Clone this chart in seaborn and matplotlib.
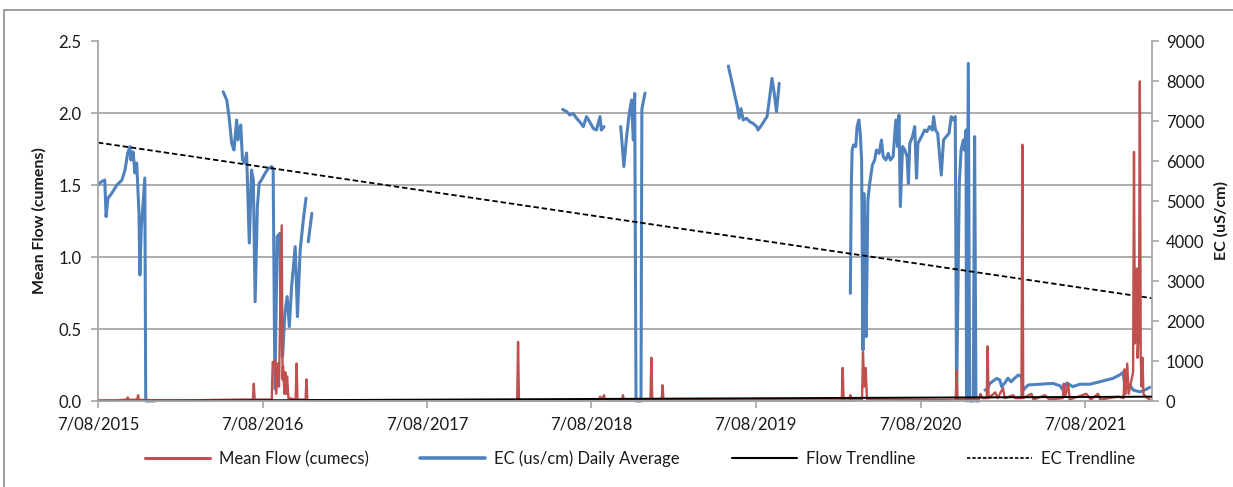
import numpy as np
import pandas as pd
import matplotlib
matplotlib.use("Agg")
import matplotlib.pyplot as plt
import matplotlib.dates as mdates
from matplotlib.ticker import MultipleLocator, FuncFormatter, FixedLocator
from matplotlib.lines import Line2D
from matplotlib.patches import Rectangle
import seaborn as sns

sns.set_style("white")
plt.rcParams['font.family'] = ['Lato', 'DejaVu Sans']

# ---------------- data ----------------
# EC daily average (uS/cm); None marks a gap in the record
ec_dates = [
    "2015-08-07", "2015-08-14", "2015-08-22", "2015-08-25", "2015-08-29", "2015-09-07",
    "2015-09-18", "2015-09-29", "2015-10-06", "2015-10-12", "2015-10-17", "2015-10-19",
    "2015-10-24", "2015-10-28", "2015-11-01", "2015-11-06", "2015-11-08", "2015-11-11",
    "2015-11-19", "2015-11-21", "2015-12-11", None,
    "2016-05-11", "2016-05-19", "2016-05-24", "2016-05-30", "2016-06-04", "2016-06-10",
    "2016-06-13", "2016-06-19", "2016-06-23", "2016-06-28", "2016-07-02", "2016-07-08",
    "2016-07-13", "2016-07-17", "2016-07-21", "2016-07-26", "2016-07-30", "2016-08-04",
    "2016-08-12", "2016-08-19", "2016-08-27", "2016-08-30", "2016-09-03", "2016-09-08",
    "2016-09-14", "2016-09-16", "2016-09-20", "2016-09-25", "2016-09-30", "2016-10-05",
    "2016-10-10", "2016-10-18", "2016-10-23", "2016-10-29", "2016-11-05", "2016-11-11", None,
    "2016-11-16", "2016-11-24", None,
    "2018-06-04", "2018-06-13", "2018-06-20", "2018-06-27", "2018-07-05", "2018-07-12",
    "2018-07-20", "2018-07-27", "2018-08-03", "2018-08-11", "2018-08-18", "2018-08-26",
    "2018-08-29", "2018-09-04", None,
    "2018-10-11", "2018-10-18", "2018-10-24", "2018-10-30", "2018-11-04", "2018-11-08",
    "2018-11-11", "2018-11-14", "2018-11-25", "2018-11-27", "2018-12-04", None,
    "2019-06-07", "2019-06-14", "2019-06-22", "2019-06-27", "2019-07-01", "2019-07-05",
    "2019-07-10", "2019-07-17", "2019-07-25", "2019-08-01", "2019-08-09", "2019-08-12",
    "2019-08-20", "2019-08-27", "2019-09-01", "2019-09-07", "2019-09-12", "2019-09-17",
    "2019-09-22", "2019-09-28", None,
    "2020-03-04", "2020-03-06", "2020-03-08", "2020-03-11", "2020-03-16", "2020-03-19",
    "2020-03-23", "2020-03-26", "2020-03-29", "2020-04-01", "2020-04-03", "2020-04-07",
    "2020-04-08", "2020-04-12", "2020-04-16", "2020-04-22", "2020-04-27", "2020-05-01",
    "2020-05-07", "2020-05-12", "2020-05-16", "2020-05-22", "2020-05-27", "2020-06-01",
    "2020-06-07", "2020-06-13", "2020-06-17", "2020-06-20", "2020-06-23", "2020-06-28",
    "2020-07-03", "2020-07-08", "2020-07-11", "2020-07-14", "2020-07-20", "2020-07-25",
    "2020-07-29", "2020-08-01", "2020-08-09", "2020-08-16", "2020-08-21", "2020-08-27",
    "2020-09-02", "2020-09-05", "2020-09-09", "2020-09-14", "2020-09-22", "2020-09-27",
    "2020-10-03", "2020-10-09", "2020-10-14", "2020-10-19", "2020-10-23", "2020-10-26",
    "2020-11-01", "2020-11-05", "2020-11-10", "2020-11-12", "2020-11-16", "2020-11-17",
    "2020-11-21", "2020-11-24", "2020-11-27", "2020-12-02", "2020-12-05", "2020-12-08",
    "2020-12-14", None,
    "2020-12-28", "2021-01-01", "2021-01-08", "2021-01-23", "2021-01-30", "2021-02-03",
    "2021-02-10", "2021-02-17", "2021-02-24", "2021-03-04", "2021-03-12", "2021-03-19",
    "2021-03-23", "2021-04-03", "2021-04-29", "2021-05-28", "2021-06-13", "2021-06-19",
    "2021-06-28", "2021-07-11", "2021-07-27", "2021-08-18", "2021-09-09", "2021-09-24",
    "2021-10-08", "2021-10-23", "2021-10-31", "2021-11-03", "2021-11-09", "2021-11-15",
    "2021-11-22", "2021-12-07", "2021-12-18", "2021-12-29",
]
ec_values = [
    5400, 5480, 5525, 4610, 5070, 5200,
    5400, 5520, 5775, 6200, 6360, 6025,
    6230, 5700, 5950, 4700, 3150, 4275,
    5575, 0, 0, None,
    7730, 7525, 7108, 6440, 6275, 7025,
    6525, 6900, 6025, 5950, 6200, 3950,
    5775, 5525, 2480, 4860, 5440, 5525,
    5690, 5810, 5860, 5775, 300, 4110,
    4190, 2025, 1110, 2190, 2610, 1860,
    2860, 3860, 2110, 3775, 4525, 5070, None,
    3980, 4690, None,
    7290, 7235, 7150, 7190, 7070, 6980,
    6860, 7110, 6980, 6815, 6775, 7110,
    6775, 6860, None,
    6860, 5860, 6610, 7190, 7525, 6525,
    7690, 0, 0, 7300, 7700, None,
    8375, 8025, 7610, 7360, 7070, 7310,
    7025, 7070, 6980, 6940, 6860, 6775,
    6900, 7025, 7110, 7610, 8065, 7690,
    7235, 7940, None,
    2690, 5275, 6275, 6400, 6360, 6860,
    7025, 6690, 6025, 1275, 5190, 3775,
    1610, 5025, 5440, 5900, 6025, 6275,
    6190, 6525, 6110, 6025, 6190, 6025,
    6110, 7025, 6360, 7150, 4860, 6360,
    6275, 6110, 5440, 6440, 6610, 6860,
    5570, 6440, 6610, 6775, 6735, 6860,
    6775, 7110, 6775, 6690, 5650, 6525,
    6610, 6690, 7110, 7025, 7110, 100,
    5440, 6275, 6525, 6275, 6775, 0,
    8440, 0, 0, 0, 6610, 0,
    0, None,
    275, 275, 440, 565, 525, 360,
    450, 570, 480, 570, 650, 610,
    275, 400, 420, 440, 380, 275,
    450, 360, 420, 420, 480, 525,
    565, 650, 720, 420, 300, 400,
    275, 230, 275, 340,
]

# Mean flow (cumecs)
flow_dates = [
    "2015-08-07", "2015-09-20", "2015-10-10", "2015-10-12", "2015-10-14", "2015-11-02",
    "2015-11-04", "2015-11-06", "2015-12-10", "2016-03-01", "2016-06-20", "2016-07-16",
    "2016-07-18", "2016-07-20", "2016-08-27", "2016-08-29", "2016-09-03", "2016-09-06",
    "2016-09-09", "2016-09-12", "2016-09-18", "2016-09-20", "2016-09-21", "2016-09-24",
    "2016-09-26", "2016-09-28", "2016-09-30", "2016-10-03", "2016-10-19", "2016-10-21",
    "2016-10-23", "2016-11-10", "2016-11-12", "2016-11-14", "2017-06-01", "2018-02-23",
    "2018-02-25", "2018-02-27", "2018-05-01", "2018-08-24", "2018-08-26", "2018-08-28",
    "2018-09-04", "2018-09-06", "2018-10-14", "2018-10-16", "2018-10-18", "2018-12-16",
    "2018-12-18", "2018-12-20", "2019-01-10", "2019-01-12", "2019-01-14", "2019-08-01",
    "2020-02-14", "2020-02-16", "2020-02-18", "2020-03-02", "2020-03-04", "2020-03-06",
    "2020-03-30", "2020-04-01", "2020-04-04", "2020-04-07", "2020-04-10", "2020-10-24",
    "2020-10-26", "2020-10-28", "2020-12-14", "2020-12-18", "2020-12-22", "2021-01-01",
    "2021-01-03", "2021-01-05", "2021-01-20", "2021-01-25", "2021-02-06", "2021-02-10",
    "2021-03-01", "2021-03-05", "2021-03-19", "2021-03-21", "2021-03-23", "2021-04-10",
    "2021-04-15", "2021-05-10", "2021-05-20", "2021-06-19", "2021-06-21", "2021-06-24",
    "2021-07-01", "2021-07-04", "2021-08-10", "2021-08-20", "2021-09-05", "2021-09-10",
    "2021-10-20", "2021-11-01", "2021-11-03", "2021-11-05", "2021-11-09", "2021-11-12",
    "2021-11-22", "2021-11-24", "2021-11-26", "2021-11-28", "2021-11-30", "2021-12-02",
    "2021-12-05", "2021-12-07", "2021-12-09", "2021-12-11", "2021-12-13", "2021-12-15",
    "2021-12-20", "2021-12-29",
]
flow_values = [
    0.005, 0.005, 0.01, 0.025, 0.008, 0.01,
    0.04, 0.008, 0.005, 0.005, 0.01, 0.01,
    0.12, 0.01, 0.01, 0.27, 0.28, 0.05,
    0.26, 0.10, 1.22, 0.15, 0.24, 0.05,
    0.20, 0.05, 0.17, 0.02, 0.01, 0.26,
    0.01, 0.01, 0.15, 0.005, 0.005, 0.005,
    0.41, 0.005, 0.005, 0.005, 0.03, 0.005,
    0.04, 0.005, 0.005, 0.04, 0.005, 0.005,
    0.30, 0.005, 0.005, 0.11, 0.005, 0.005,
    0.005, 0.23, 0.005, 0.005, 0.04, 0.005,
    0.01, 0.34, 0.10, 0.23, 0.01, 0.005,
    0.21, 0.01, 0.01, 0.05, 0.02, 0.02,
    0.38, 0.02, 0.06, 0.02, 0.09, 0.02,
    0.04, 0.02, 0.02, 1.78, 0.02, 0.05,
    0.01, 0.04, 0.01, 0.02, 0.12, 0.03,
    0.12, 0.01, 0.05, 0.01, 0.05, 0.01,
    0.03, 0.02, 0.22, 0.05, 0.26, 0.05,
    0.20, 1.73, 0.40, 0.50, 0.92, 0.30,
    0.50, 2.22, 0.30, 0.10, 0.30, 0.05,
    0.03, 0.01,
]

# Linear trendlines (end points)
trend_dates = ["2015-08-07", "2022-01-03"]
flow_trend = [0.0, 0.03]
ec_trend = [6460, 2570]

axis_start = "2015-08-07"
axis_end = "2022-01-03"

flow_ticks = [0.0, 0.5, 1.0, 1.5, 2.0, 2.5]
ec_ticks = [0, 1000, 2000, 3000, 4000, 5000, 6000, 7000, 8000, 9000]

legend_labels = ["Mean Flow (cumecs)", "EC (us/cm) Daily Average", "Flow Trendline", "EC Trendline"]

# ---------------- frames ----------------
ec_df = pd.DataFrame({"date": pd.to_datetime(ec_dates),
                      "ec": pd.array(ec_values, dtype="Float64").astype(float)})
ec_df["seg"] = ec_df["ec"].isna().cumsum()
ec_df = ec_df.dropna()

flow_df = pd.DataFrame({"date": pd.to_datetime(flow_dates), "flow": flow_values})
trend_df = pd.DataFrame({"date": pd.to_datetime(trend_dates),
                         "flow": flow_trend, "ec": ec_trend})

RED = "#C0504D"
BLUE = "#4F81BD"
GRID = "#A6A6A6"
TXT = "#1a1a1a"

fig = plt.figure(figsize=(12.33, 4.87), dpi=100)
ax1 = fig.add_axes([98 / 1233, 1 - 401 / 487, (1152 - 98) / 1233, (401 - 41) / 487])
ax2 = ax1.twinx()
ax1.set_zorder(ax2.get_zorder() + 1)
ax1.patch.set_visible(False)

# EC (secondary axis)
sns.lineplot(data=ec_df, x="date", y="ec", units="seg", estimator=None, sort=False,
             color=BLUE, lw=2.2, ax=ax2, clip_on=False)
sns.lineplot(data=trend_df, x="date", y="ec", color="black", lw=1.3,
             linestyle=(0, (3, 1.6)), ax=ax2)

# Flow (primary axis)
sns.lineplot(data=flow_df, x="date", y="flow", estimator=None, sort=False,
             color=RED, lw=1.7, ax=ax1, clip_on=False)
sns.lineplot(data=trend_df, x="date", y="flow", color="black", lw=1.4, ax=ax1)

ax1.set_xlim(pd.Timestamp(axis_start), pd.Timestamp(axis_end))
ax1.set_ylim(flow_ticks[0], flow_ticks[-1])
ax2.set_ylim(ec_ticks[0], ec_ticks[-1])

ax1.yaxis.set_major_locator(FixedLocator(flow_ticks))
ax1.yaxis.set_major_formatter(FuncFormatter(lambda v, p: f"{v:.1f}"))
ax2.yaxis.set_major_locator(FixedLocator(ec_ticks))
ax2.yaxis.set_major_formatter(FuncFormatter(lambda v, p: f"{v:.0f}"))

ax1.xaxis.set_major_locator(mdates.YearLocator(base=1, month=8, day=7))
def fmt_date(v, p):
    d = mdates.num2date(v)
    return f"{d.day}/{d.month:02d}/{d.year}"
ax1.xaxis.set_major_formatter(FuncFormatter(fmt_date))

# gridlines follow the primary axis (every 0.5 cumecs = 1800 uS/cm)
ax2.yaxis.set_minor_locator(MultipleLocator(ec_ticks[-1] / (len(flow_ticks) - 1)))
ax2.grid(which="minor", axis="y", color=GRID, lw=1.3)
ax2.grid(which="major", visible=False)
ax1.grid(False)
ax2.tick_params(which="minor", length=0)

for ax in (ax1, ax2):
    for s in ax.spines.values():
        s.set_visible(False)
ax1.spines["left"].set_visible(True)
ax1.spines["bottom"].set_visible(True)
ax2.spines["right"].set_visible(True)
for s in (ax1.spines["left"], ax1.spines["bottom"], ax2.spines["right"]):
    s.set_color(GRID)
    s.set_linewidth(1.3)

ax1.tick_params(axis="x", direction="out", length=5, width=1.2, color=GRID,
                labelsize=12, labelcolor=TXT, pad=6, bottom=True)
ax1.tick_params(axis="y", direction="out", length=5, width=1.2, color=GRID,
                labelsize=12, labelcolor=TXT, pad=7, left=True)
ax2.tick_params(axis="y", which="major", direction="out", length=5, width=1.2, color=GRID,
                labelsize=12, labelcolor=TXT, pad=5, right=True)

ax1.set_xlabel("")
ax1.set_ylabel("Mean Flow (cumens)", fontsize=11.5, fontweight="bold", color=TXT)
ax2.set_ylabel("EC (uS/cm)", fontsize=11.5, fontweight="bold", color=TXT, rotation=90)
ax1.yaxis.set_label_coords((47 - 98) / 1054, 0.5)
ax2.yaxis.set_label_coords((1214 - 98) / 1054, 0.5)

handles = [
    Line2D([], [], color=RED, lw=2.2),
    Line2D([], [], color=BLUE, lw=2.6),
    Line2D([], [], color="black", lw=1.5),
    Line2D([], [], color="black", lw=1.2, linestyle=(0, (2, 1.2))),
]
fig.legend(handles, legend_labels, loc="center", bbox_to_anchor=(640 / 1233, 1 - 459 / 487),
           ncol=4, frameon=False, fontsize=12, handlelength=3.9, handletextpad=0.55,
           columnspacing=3.1, labelcolor=TXT)

# outer chart-area border
fig.add_artist(Rectangle((4 / 1233, -0.1), 1.2, (1 - 10 / 487) + 0.1,
                         transform=fig.transFigure, fill=False,
                         edgecolor="#8c8c8c", lw=1.2, clip_on=False))

fig.savefig("out.png", dpi=100)
